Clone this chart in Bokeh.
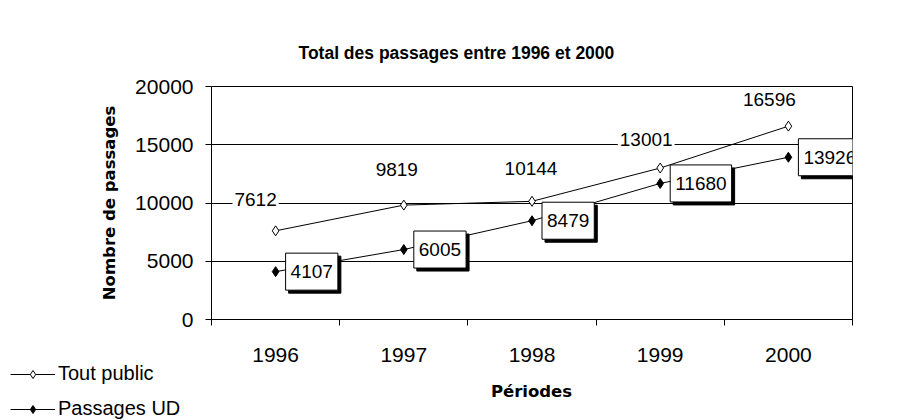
from bokeh.plotting import figure
from bokeh.layouts import column
from bokeh.models import (ColumnDataSource, Range1d, FactorRange, LinearAxis, Label,
                          FixedTicker, Legend, LegendItem)
from bokeh.embed import file_html
from bokeh.resources import INLINE
from bokeh.core.properties import value

# ---- data ----
years = ["1996", "1997", "1998", "1999", "2000"]
tout_public = [7612, 9819, 10144, 13001, 16596]
passages_ud = [4107, 6005, 8479, 11680, 13926]
y_ticks = [0, 5000, 10000, 15000, 20000]
series_names = ["Tout public", "Passages UD"]

# label nudges in screen pixels (style only)
tp_dx = [-20, -7, -1, -14, -19]
tp_dy = [-31, -36, -33, -29, -27]

FONT = "Liberation Sans"
BOLD_FONT = "DejaVu Sans"

src = ColumnDataSource(dict(
    year=years, tp=tout_public, ud=passages_ud,
    tp_text=[str(v) for v in tout_public],
    ud_text=[str(v) for v in passages_ud],
    tp_dx=tp_dx, tp_dy=tp_dy,
))
x_range = FactorRange(factors=years)

# ---------------- main chart ----------------
p = figure(
    x_range=x_range, y_range=Range1d(0, y_ticks[-1]),
    width=912, height=365,
    min_border_left=211, min_border_right=60, min_border_top=86, min_border_bottom=46,
    output_backend="svg", toolbar_location=None,
    background_fill_color="white", border_fill_color="white",
    outline_line_color="black", outline_line_width=1,
)
p.frame_align = False

p.title.text = "Total des passages entre 1996 et 2000"
p.title.text_font = FONT
p.title.text_font_style = "bold"
p.title.text_font_size = "17.5px"
p.title.text_color = "black"
p.title.align = "left"
p.title.offset = 87
p.title.standoff = 48

p.xgrid.grid_line_color = None
p.ygrid.grid_line_color = "black"
p.ygrid.grid_line_width = 1

yax = p.yaxis[0]
yax.ticker = FixedTicker(ticks=y_ticks, minor_ticks=[])
yax.major_tick_in = 0
yax.major_tick_out = 6
yax.major_tick_line_color = "black"
yax.axis_line_color = "black"
yax.major_label_text_font = FONT
yax.major_label_text_font_size = "21px"
yax.major_label_text_color = "black"
yax.major_label_standoff = 12
yax.axis_label = "Nombre de passages"
yax.axis_label_text_font = BOLD_FONT
yax.axis_label_text_font_style = "bold"
yax.axis_label_text_font_size = "16.5px"
yax.axis_label_text_color = "black"
yax.axis_label_standoff = 13

xax = p.xaxis[0]
xax.axis_line_color = None
xax.major_tick_line_color = None
xax.major_tick_in = 0
xax.major_tick_out = 0
xax.major_label_text_font = FONT
xax.major_label_text_font_size = "21px"
xax.major_label_text_color = "black"
xax.major_label_standoff = 22

# axis line with tick marks at the boundaries between categories
edge_axis = LinearAxis(
    ticker=FixedTicker(ticks=list(range(len(years) + 1)), minor_ticks=[]),
    major_tick_in=0, major_tick_out=6, major_tick_line_color="black",
    minor_tick_line_color=None, axis_line_color="black",
    major_label_text_font_size="0px", major_label_text_alpha=0,
    major_label_standoff=0,
)
p.below = [edge_axis] + list(p.below)

p.line("year", "tp", source=src, line_color="black", line_width=1)
p.scatter("year", "tp", source=src, marker="diamond", size=10,
          fill_color="white", line_color="black", line_width=1)
p.line("year", "ud", source=src, line_color="black", line_width=1)
p.scatter("year", "ud", source=src, marker="diamond", size=10,
          fill_color="black", line_color="black", line_width=1)

# boxed labels with drop shadow for Passages UD
p.text("year", "ud", text="ud_text", source=src, x_offset=13, y_offset=3,
       text_align="left", text_baseline="middle",
       text_font=value(FONT), text_font_size="19px", text_color="black",
       padding=(5, 12), background_fill_color="black", border_line_color="black")
p.text("year", "ud", text="ud_text", source=src, x_offset=10, y_offset=0,
       text_align="left", text_baseline="middle",
       text_font=value(FONT), text_font_size="19px", text_color="black",
       padding=(5, 12), background_fill_color="white", border_line_color="black",
       border_line_width=1)

# labels for Tout public
p.text("year", "tp", text="tp_text", source=src, x_offset="tp_dx", y_offset="tp_dy",
       text_align="center", text_baseline="middle",
       text_font=value(FONT), text_font_size="19px", text_color="black",
       padding=2, background_fill_color="white")

# ---------------- bottom strip: legend + x axis title ----------------
b = figure(width=912, height=55, min_border=0,
           min_border_left=0, min_border_right=0, min_border_top=0, min_border_bottom=0,
           x_range=x_range, y_range=Range1d(-2, -1),
           x_axis_location=None, y_axis_location=None,
           output_backend="svg", toolbar_location=None,
           outline_line_color=None, background_fill_color="white",
           border_fill_color="white")
b.frame_align = False
b.grid.visible = False

# legend proxies: same series, outside the visible range of this strip
lk1 = b.line("year", "tp", source=src, line_color="black", line_width=1)
mk1 = b.scatter("year", "tp", source=src, marker="diamond", size=8,
                fill_color="white", line_color="black")
lk2 = b.line("year", "ud", source=src, line_color="black", line_width=1)
mk2 = b.scatter("year", "ud", source=src, marker="diamond", size=8,
                fill_color="black", line_color="black")

legend = Legend(
    items=[LegendItem(label=series_names[0], renderers=[lk1, mk1]),
           LegendItem(label=series_names[1], renderers=[lk2, mk2])],
    location=(10, 0), glyph_width=45, glyph_height=20, label_height=20,
    label_standoff=3, spacing=12, padding=0, margin=0,
    border_line_color=None, background_fill_alpha=0,
    label_text_font=FONT, label_text_font_size="20px", label_text_color="black",
)
b.add_layout(legend)

b.add_layout(Label(x=531, y=29, x_units="screen", y_units="screen", text="Périodes",
                   text_align="center", text_baseline="middle",
                   text_font=BOLD_FONT, text_font_style="bold",
                   text_font_size="16.5px", text_color="black"))

layout = column(p, b, spacing=0)
open("out.html", "w").write(file_html(layout, INLINE))
